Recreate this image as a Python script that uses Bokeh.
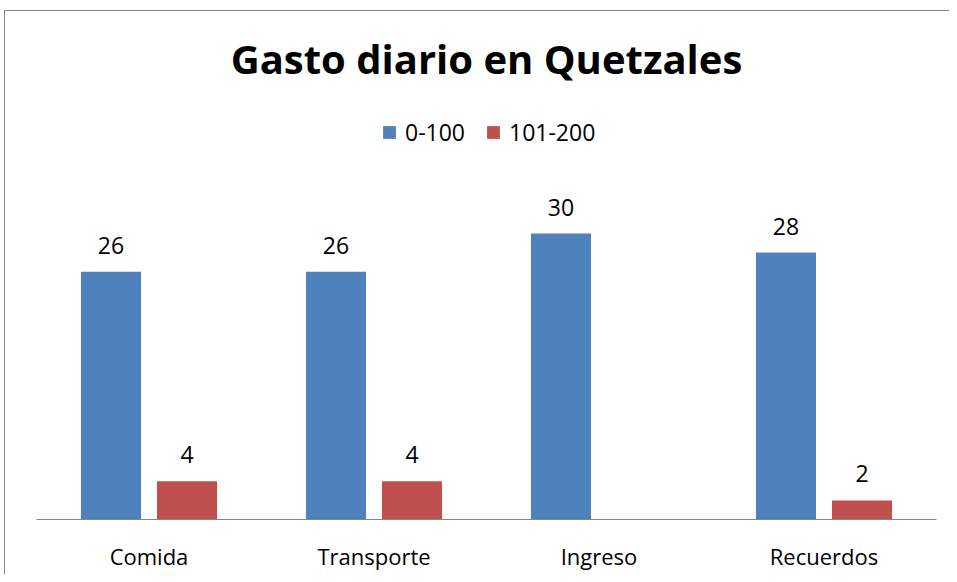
from bokeh.plotting import figure
from bokeh.models import ColumnDataSource, Legend, LegendItem, Range1d, FactorRange
from bokeh.transform import dodge
from bokeh.core.properties import value
from bokeh.embed import file_html
from bokeh.resources import INLINE

categories = ["Comida", "Transporte", "Ingreso", "Recuerdos"]
series_names = ["0-100", "101-200"]
vals_0_100 = [26, 26, 30, 28]
vals_101_200 = [4, 4, 0, 2]

BLUE = "#4F81BD"
RED = "#C0504D"
FONT = "Open Sans"
GRAY = "#868686"

src = ColumnDataSource(dict(cat=categories, a=vals_0_100, b=vals_101_200,
                            a_lbl=[str(v) for v in vals_0_100],
                            b_lbl=[str(v) if v else "" for v in vals_101_200]))

p = figure(width=949, height=574, x_range=FactorRange(*categories, range_padding=0),
           y_range=Range1d(0, 45.0), output_backend="svg", toolbar_location=None,
           min_border_left=36, min_border_right=13, min_border_bottom=55, min_border_top=90,
           styles={"background-color": "white",
                   "box-shadow": "inset 4px 10px 0 0 white, inset 5px 11px 0 0 %s" % GRAY})
p.border_fill_color = None
p.background_fill_color = None

p.title.text = "Gasto diario en Quetzales"
p.title.text_font = FONT
p.title.text_font_size = "40px"
p.title.text_font_style = "bold"
p.title.align = "center"
p.title.text_color = "black"

r1 = p.vbar(x=dodge("cat", -0.169, range=p.x_range), top="a", width=0.267, source=src,
            fill_color=BLUE, line_color=None)
r2 = p.vbar(x=dodge("cat", 0.169, range=p.x_range), top="b", width=0.267, source=src,
            fill_color=RED, line_color=None)

for col, off in (("a", -0.169), ("b", 0.169)):
    p.text(x=dodge("cat", off, range=p.x_range), y=col, text=col + "_lbl", source=src,
           text_align="center", text_baseline="bottom", y_offset=-18,
           text_font=value(FONT), text_font_size="23px", text_color="black")

legend = Legend(items=[LegendItem(label=series_names[0], renderers=[r1]),
                       LegendItem(label=series_names[1], renderers=[r2])],
                orientation="horizontal", location=(345, 371),
                label_text_font=FONT, label_text_font_size="23px", label_text_color="black",
                glyph_width=16, glyph_height=16, label_standoff=8, spacing=20,
                border_line_color=None, background_fill_alpha=0, margin=0, padding=4)
p.add_layout(legend)

p.xaxis.axis_line_color = GRAY
p.xaxis.axis_line_width = 1
p.xaxis.major_tick_line_color = None
p.xaxis.minor_tick_line_color = None
p.xaxis.major_label_text_font = FONT
p.xaxis.major_label_text_font_size = "22px"
p.xaxis.major_label_text_color = "black"
p.xaxis.major_label_standoff = 15
p.yaxis.visible = False
p.xgrid.visible = False
p.ygrid.visible = False
p.outline_line_color = None

open("out.html", "w").write(file_html(p, INLINE))
